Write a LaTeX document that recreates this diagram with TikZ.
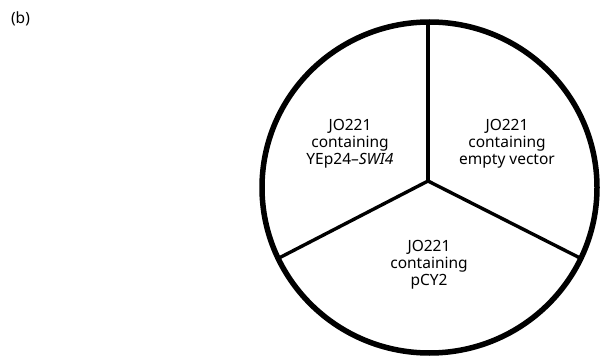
\documentclass[tikz,border=0pt]{standalone}
\usepackage{fontspec}
\setmainfont{Noto Sans}
\begin{document}
\begin{tikzpicture}[x=1pt,y=-1pt,
  lbl/.style={align=center,font=\fontsize{15.5}{17}\selectfont,inner sep=0pt},
  rim/.style={line width=5.5pt},
  spoke/.style={line width=3.4pt}]
\useasboundingbox (0,0) rectangle (602,358);
\node[font=\fontsize{15.5}{17}\selectfont,anchor=center] (tag) at (20.5,19) {(b)};
\coordinate (c) at (429.5,187.5);
\coordinate (hub) at (428,181);
\coordinate (top) at (428,22);
\coordinate (lft) at (279,258);
\coordinate (rgt) at (580,258);
\draw[spoke] (hub) -- (top);
\draw[spoke] (hub) -- (lft);
\draw[spoke] (hub) -- (rgt);
\draw[rim] (c) ellipse [x radius=167.5, y radius=165.5];
\node[lbl] (a) at (350,144) {JO221\\containing\\YEp24--\textit{SWI4}};
\node[lbl] (b) at (507,144) {JO221\\containing\\empty vector};
\node[lbl] (p) at (429,265) {JO221\\containing\\pCY2};
\end{tikzpicture}
\end{document}
